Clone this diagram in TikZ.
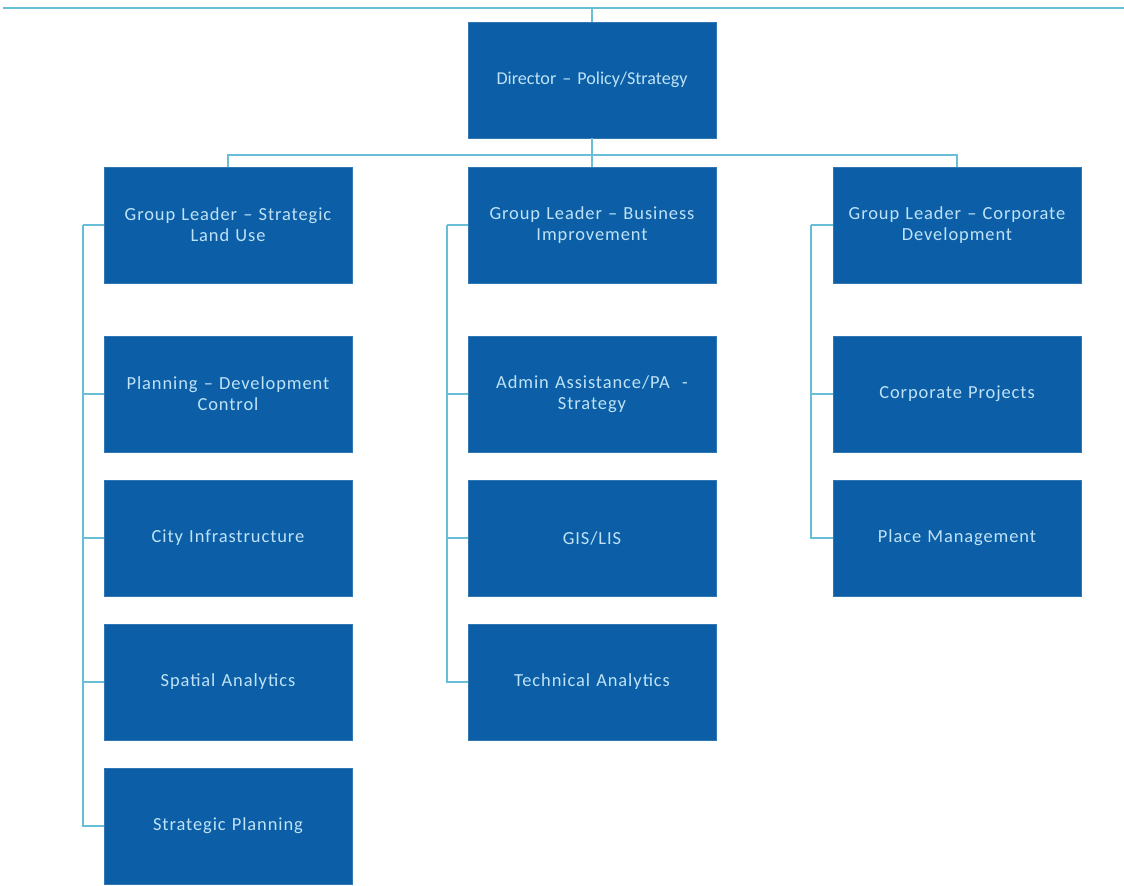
\documentclass[tikz,border=0pt]{standalone}
\usepackage{fontspec}
\setmainfont{Carlito}
\usepackage{tikz}
\usetikzlibrary{positioning,calc}
\definecolor{boxblue}{RGB}{12,95,166}
\definecolor{boxtext}{RGB}{190,226,247}
\definecolor{linkblue}{RGB}{104,190,214}

\begin{document}
\begin{tikzpicture}[x=0.02cm,y=-0.02cm,align=center]
    \tikzset{
        role/.style={
            fill=boxblue,
            draw=boxblue!85!white,
            text=boxtext,
            minimum width=4.96cm,
            minimum height=2.32cm,
            inner sep=2pt,
            text width=4.7cm,
            align=center,
            font=\fontsize{10.5}{12}\selectfont\addfontfeatures{LetterSpace=5}
        },
        link/.style={draw=linkblue,line width=1pt}
    }
    \useasboundingbox (0,0) rectangle (1124,885);

    % Director
    \node[role,font=\fontsize{10.3}{12}\selectfont] (Dir) at (592,80) {Director -- Policy/Strategy};
    \coordinate (Top_L) at (3,8);
    \coordinate (Top_R) at (1124,8);
    \draw[link] (Top_L) -- (Top_R);
    \draw[link] (Top_L -| Dir.north) -- (Dir.north);

    % Group leaders
    \node[role] (GL_Land) at (228,225) {Group Leader -- Strategic\\Land Use};
    \node[role] (GL_Bus) at (592,225) {Group Leader -- Business\\Improvement};
    \node[role] (GL_Corp) at (957,225) {Group Leader -- Corporate\\Development};

    \coordinate (Bar) at (592,155);
    \draw[link] (Dir.south) -- (Bar);
    \draw[link] (Bar) -| (GL_Land.north);
    \draw[link] (Bar) -- (GL_Bus.north);
    \draw[link] (Bar) -| (GL_Corp.north);

    % Strategic Land Use team
    \node[role] (L_PDC) at (228,394) {Planning -- Development\\Control};
    \node[role] (L_City) at (228,538) {City Infrastructure};
    \node[role] (L_Spat) at (228,682) {Spatial Analytics};
    \node[role] (L_Plan) at (228,826) {Strategic Planning};

    % Business Improvement team
    \node[role] (B_Admin) at (592,394) {Admin Assistance/PA \ -\\Strategy};
    \node[role] (B_GIS) at (592,538) {GIS/LIS};
    \node[role] (B_Tech) at (592,682) {Technical Analytics};

    % Corporate Development team
    \node[role] (C_Proj) at (957,394) {Corporate Projects};
    \node[role] (C_Place) at (957,538) {Place Management};

    % Spines
    \coordinate (L_Spine) at ($(GL_Land.west)+(-21,0)$);
    \coordinate (B_Spine) at ($(GL_Bus.west)+(-21,0)$);
    \coordinate (C_Spine) at ($(GL_Corp.west)+(-22,0)$);
    \draw[link] (GL_Land.west) -- (L_Spine);
    \draw[link] (GL_Bus.west) -- (B_Spine);
    \draw[link] (GL_Corp.west) -- (C_Spine);
    \foreach \n in {L_PDC,L_City,L_Spat,L_Plan}
        \draw[link] (L_Spine) |- (\n.west);
    \foreach \n in {B_Admin,B_GIS,B_Tech}
        \draw[link] (B_Spine) |- (\n.west);
    \foreach \n in {C_Proj,C_Place}
        \draw[link] (C_Spine) |- (\n.west);
\end{tikzpicture}
\end{document}
